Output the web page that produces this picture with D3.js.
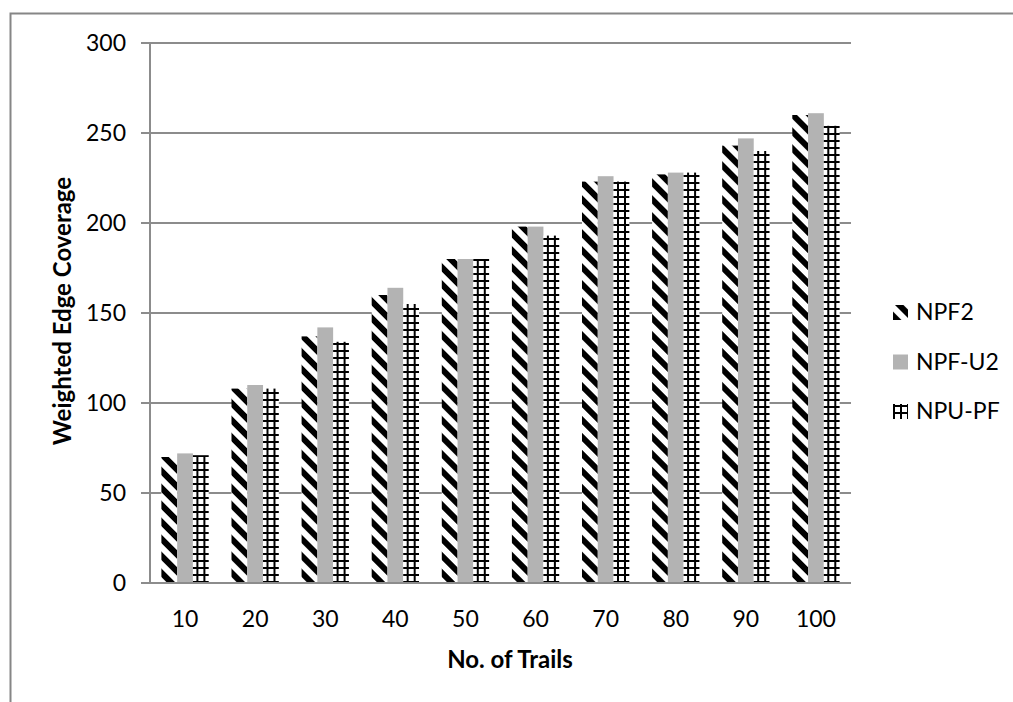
<!DOCTYPE html>
<html>
<head>
<meta charset="utf-8">
<script src="https://cdn.jsdelivr.net/npm/d3@7"></script>
<style>
  html, body { margin: 0; padding: 0; background: #fff; }
  svg { display: block; }
  text { font-family: Lato, "Open Sans", sans-serif; fill: #000; }
</style>
</head>
<body>
<svg id="chart" width="1013" height="702"></svg>
<script>
// Number of trails on the x axis
const trails = ["10", "20", "30", "40", "50", "60", "70", "80", "90", "100"];
// Series names, in drawing order within each group
const seriesNames = ["NPF2", "NPF-U2", "NPU-PF"];
// Weighted edge coverage per series
const npf2  = [70, 108, 137, 160, 180, 198, 223, 227, 243, 260];
const npfU2 = [72, 110, 142, 164, 180, 198, 226, 228, 247, 261];
const npuPf = [71, 108, 134, 155, 180, 193, 223, 228, 240, 254];
// Y axis ticks
const yTicks = [0, 50, 100, 150, 200, 250, 300];

const seriesValues = [npf2, npfU2, npuPf];
const fills = ["url(#hatch-diag)", "#b3b3b3", "url(#hatch-grid)"];

const svg = d3.select("#chart");

// Fill patterns
const defs = svg.append("defs");
const diag = defs.append("pattern")
  .attr("id", "hatch-diag")
  .attr("patternUnits", "userSpaceOnUse")
  .attr("width", 12).attr("height", 12)
  .attr("patternTransform", "rotate(-45)");
diag.append("rect").attr("width", 12).attr("height", 12).attr("fill", "#fff");
diag.append("rect").attr("width", 6).attr("height", 12).attr("fill", "#000");

const grid = defs.append("pattern")
  .attr("id", "hatch-grid")
  .attr("patternUnits", "userSpaceOnUse")
  .attr("width", 7).attr("height", 7);
grid.append("rect").attr("width", 7).attr("height", 7).attr("fill", "#fff");
grid.append("rect").attr("width", 7).attr("height", 2).attr("fill", "#000");
grid.append("rect").attr("width", 2).attr("height", 7).attr("fill", "#000");

// Chart frame (left and top edges)
svg.append("path")
  .attr("d", "M10.5,702V13.5H1013")
  .attr("fill", "none")
  .attr("stroke", "#868686")
  .attr("stroke-width", 2);

const plot = { left: 150, right: 851, top: 43, bottom: 583 };

const x0 = d3.scaleBand()
  .domain(trails)
  .range([plot.left, plot.right])
  .paddingInner(0.325)
  .paddingOuter(0.1625);

const x1 = d3.scaleBand()
  .domain(seriesNames)
  .range([0, x0.bandwidth()]);

const y = d3.scaleLinear()
  .domain([0, 300])
  .range([plot.bottom, plot.top]);

// Horizontal gridlines with outer tick stubs
svg.append("g")
  .selectAll("line")
  .data(yTicks)
  .join("line")
  .attr("x1", plot.left - 9)
  .attr("x2", plot.right)
  .attr("y1", d => y(d))
  .attr("y2", d => y(d))
  .attr("stroke", "#8c8c8c")
  .attr("stroke-width", 2);

// Bars
const groups = svg.append("g")
  .selectAll("g")
  .data(trails)
  .join("g")
  .attr("transform", d => `translate(${x0(d)},0)`);

groups.selectAll("rect")
  .data((d, i) => seriesNames.map((s, k) => ({ s, k, v: seriesValues[k][i] })))
  .join("rect")
  .attr("x", d => x1(d.s))
  .attr("width", x1.bandwidth())
  .attr("y", d => y(d.v))
  .attr("height", d => y(0) - y(d.v))
  .attr("fill", d => fills[d.k]);

// Axis lines
svg.append("line")
  .attr("x1", plot.left).attr("x2", plot.left)
  .attr("y1", plot.top).attr("y2", plot.bottom)
  .attr("stroke", "#8c8c8c").attr("stroke-width", 2);
svg.append("line")
  .attr("x1", plot.left - 9).attr("x2", plot.right)
  .attr("y1", plot.bottom).attr("y2", plot.bottom)
  .attr("stroke", "#8c8c8c").attr("stroke-width", 2);

// Y tick labels
svg.append("g")
  .selectAll("text")
  .data(yTicks)
  .join("text")
  .attr("x", 126)
  .attr("y", d => y(d))
  .attr("dy", "0.36em")
  .attr("text-anchor", "end")
  .style("font-size", "23px")
  .text(d => d);

// X tick labels
svg.append("g")
  .selectAll("text")
  .data(trails)
  .join("text")
  .attr("x", d => x0(d) + x0.bandwidth() / 2)
  .attr("y", 627)
  .attr("text-anchor", "middle")
  .style("font-size", "23px")
  .text(d => d);

// Axis titles
svg.append("text")
  .attr("x", 510)
  .attr("y", 668)
  .attr("text-anchor", "middle")
  .style("font-size", "24px")
  .style("font-weight", "bold")
  .text("No. of Trails");

svg.append("text")
  .attr("transform", "translate(71,311) rotate(-90)")
  .attr("text-anchor", "middle")
  .style("font-size", "24px")
  .style("font-weight", "bold")
  .text("Weighted Edge Coverage");

// Legend
const legend = svg.append("g")
  .selectAll("g")
  .data(seriesNames)
  .join("g")
  .attr("transform", (d, i) => `translate(893,${320 + i * 49.5})`);

legend.append("rect")
  .attr("x", 0)
  .attr("y", -15)
  .attr("width", 15)
  .attr("height", 15)
  .attr("fill", (d, i) => fills[i]);

legend.append("text")
  .attr("x", 23)
  .attr("y", 0)
  .style("font-size", "23px")
  .text(d => d);
</script>
</body>
</html>
